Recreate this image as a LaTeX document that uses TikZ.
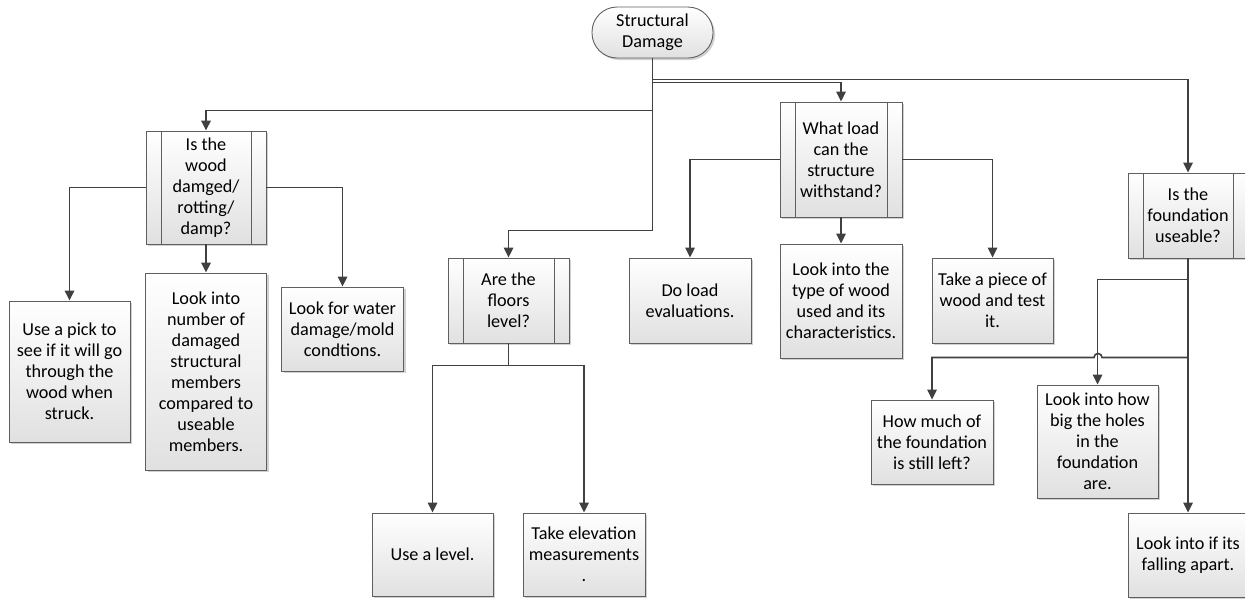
\documentclass[tikz,border=0pt]{standalone}
\usepackage{fontspec}
\setmainfont{Carlito}
\usetikzlibrary{arrows.meta,shadows}

\definecolor{linecol}{HTML}{404040}
\definecolor{edgecol}{HTML}{5F5F5F}

\tikzset{
  shape base/.style={draw=edgecol, line width=0.9pt, top color=white, bottom color=black!12,
    drop shadow={shadow xshift=2pt, shadow yshift=-2pt, fill=black!30, opacity=0.6},
    align=center, inner sep=2pt, font=\fontsize{18.2}{21}\selectfont, text=black},
  actbox/.style={shape base, rectangle},
  procbox/.style={shape base, rectangle,
    path picture={
      \draw[edgecol, line width=0.9pt]
        ([xshift=15pt]path picture bounding box.north west) -- ([xshift=15pt]path picture bounding box.south west)
        ([xshift=-15pt]path picture bounding box.north east) -- ([xshift=-15pt]path picture bounding box.south east);
    }},
  termbox/.style={shape base, rectangle, rounded corners=25pt},
  conn/.style={draw=linecol, line width=1.6pt, -{Triangle[length=10pt,width=9.5pt]}}
}

\begin{document}
\begin{tikzpicture}[x=1pt, y=-1pt]
\useasboundingbox (0,0) rectangle (1245,598);

% start
\node[termbox, minimum width=121pt, minimum height=51pt] (sd) at (652.5,32.5) {Structural\\Damage};

% branch 1: wood condition
\node[procbox, minimum width=120pt, minimum height=113pt] (q1) at (206,187.5) {Is the\\wood\\damged/\\rotting/\\damp?};
\node[actbox, minimum width=121pt, minimum height=141pt] (a1) at (69.5,371.5) {Use a pick to\\see if it will go\\through the\\wood when\\struck.};
\node[actbox, minimum width=121pt, minimum height=197pt] (a2) at (206,371.5) {Look into\\number of\\damaged\\structural\\members\\compared to\\useable\\members.};
\node[actbox, minimum width=122pt, minimum height=84pt] (a3) at (342.5,329) {Look for water\\damage/mold\\condtions.};

% branch 2: floors
\node[procbox, minimum width=121pt, minimum height=85pt] (q2) at (508.5,300.5) {Are the\\floors\\level?};
\node[actbox, minimum width=121pt, minimum height=83pt] (b1) at (432.5,554.5) {Use a level.};
\node[actbox, minimum width=122pt, minimum height=83pt] (b2) at (584,554.5) {Take elevation\\measurements\\.};

% branch 3: load
\node[procbox, minimum width=122pt, minimum height=115pt] (q3) at (841,159.5) {What load\\can the\\structure\\withstand?};
\node[actbox, minimum width=122pt, minimum height=85pt] (c1) at (690,300.5) {Do load\\evaluations.};
\node[actbox, minimum width=122pt, minimum height=114pt] (c2) at (841,301) {Look into the\\type of wood\\used and its\\characteristics.};
\node[actbox, minimum width=121pt, minimum height=85pt] (c3) at (992.5,300.5) {Take a piece of\\wood and test\\it.};

% branch 4: foundation
\node[procbox, minimum width=120pt, minimum height=85pt] (q4) at (1188,215.5) {Is the\\foundation\\useable?};
\node[actbox, minimum width=122pt, minimum height=84pt] (d1) at (932,442) {How much of\\the foundation\\is still left?};
\node[actbox, minimum width=121pt, minimum height=113pt] (d2) at (1097.5,441.5) {Look into how\\big the holes\\in the\\foundation\\are.};
\node[actbox, minimum width=120pt, minimum height=84pt] (d3) at (1188,555) {Look into if its\\falling apart.};

% connectors from the start node
\draw[conn] (sd.south) -- ++(0,21) -| (q4.north);
\draw[conn] (sd.south) -- ++(0,24) -| (q3.north);
\draw[conn] (sd.south) -- ++(0,52) -| (q1.north);
\draw[conn] (sd.south) -- ++(0,172) -| (q2.north);

% wood condition
\draw[conn] (q1.west) -| (a1.north);
\draw[conn] (q1.south) -- (q1.south |- a2.north);
\draw[conn] (q1.east) -| (a3.north);

% floors
\draw[conn] (q2.south) -- ++(0,22) -| (b1.north);
\draw[conn] (q2.south) -- ++(0,22) -| (b2.north);

% load
\draw[conn] (q3.west) -| (c1.north);
\draw[conn] (q3.south) -- (c2.north);
\draw[conn] (q3.east) -| (c3.north);

% foundation, with a hop over the branch to d2
\draw[conn] (q4.south) -- ++(0,21) -| (d2.north);
\draw[conn] (q4.south) -- ++(0,99) -- ++(-86,0) arc[start angle=0, end angle=180, radius=4pt] -| (d1.north);
\draw[conn] (q4.south) -- (d3.north);
\end{tikzpicture}
\end{document}
